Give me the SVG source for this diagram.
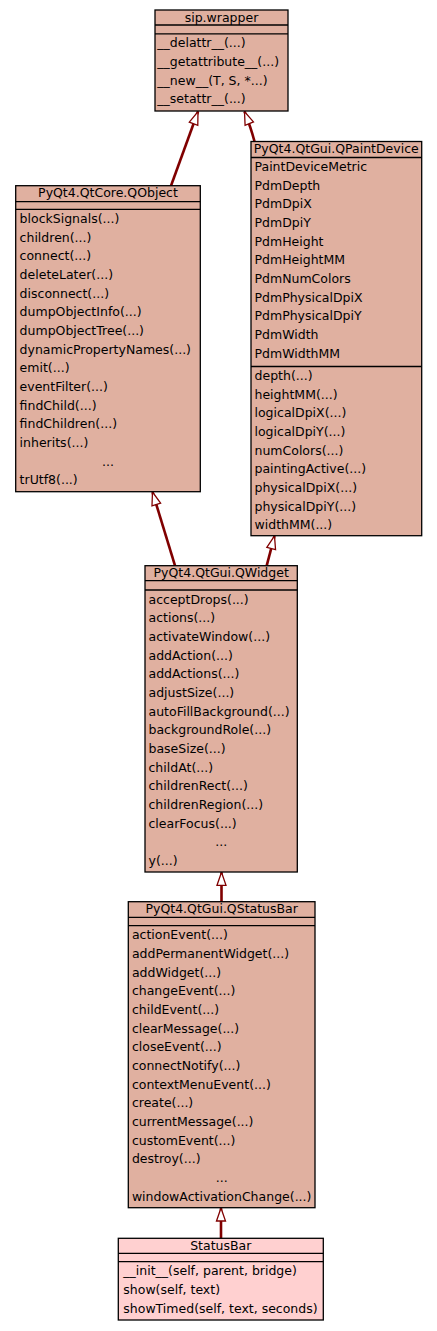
<svg xmlns="http://www.w3.org/2000/svg" width="437" height="1331" viewBox="0 0 437 1331">
<style>
.b{fill:#e0b0a0;stroke:#000;stroke-width:1.3}
.s{fill:#ffd0d0;stroke:#000;stroke-width:1.3}
.d{stroke:#000;stroke-width:1.3}
text{font-family:"DejaVu Sans","Liberation Sans",sans-serif;font-size:12.5px;fill:#000}
.c{text-anchor:middle}
.e{stroke:#800000;stroke-width:2.6;fill:none;marker-end:url(#a)}
</style>
<defs>
<marker id="a" markerUnits="userSpaceOnUse" markerWidth="16" markerHeight="12" refX="13.5" refY="5.5" orient="auto" overflow="visible">
<path d="M0.5,1 L13.5,5.5 L0.5,10 Z" fill="#fff" stroke="#800000" stroke-width="1.3"/>
</marker>
</defs>
<rect width="437" height="1331" fill="#fff"/>
<g id="edges">
<path class="e" d="M171,185.7 L198,111.5"/>
<path class="e" d="M254.5,141.5 Q251,128 244.5,111.5"/>
<path class="e" d="M175,565.7 L152.5,492"/>
<path class="e" d="M266.7,565.7 L274.5,536"/>
<path class="e" d="M221.5,901.7 L221.5,872.3"/>
<path class="e" d="M221,1238.3 L221,1208"/>
</g>
<g id="sip_wrapper">
<rect class="b" x="155" y="10" width="133" height="101"/>
<line class="d" x1="155" y1="25" x2="288" y2="25"/>
<line class="d" x1="155" y1="33.8" x2="288" y2="33.8"/>
<text class="c" x="221.5" y="21.7">sip.wrapper</text>
<text x="157.3" y="47.3">__delattr__(...)</text>
<text x="157.3" y="66">__getattribute__(...)</text>
<text x="157.3" y="84.6">__new__(T, S, *...)</text>
<text x="157.3" y="103.3">__setattr__(...)</text>
</g>
<g id="QObject">
<rect class="b" x="15.7" y="185.7" width="184.6" height="306"/>
<line class="d" x1="15.7" y1="201.7" x2="200.3" y2="201.7"/>
<line class="d" x1="15.7" y1="209.3" x2="200.3" y2="209.3"/>
<text class="c" x="108" y="197.4">PyQt4.QtCore.QObject</text>
<text x="19.6" y="222.8">blockSignals(...)</text>
<text x="19.6" y="241.5">children(...)</text>
<text x="19.6" y="260.1">connect(...)</text>
<text x="19.6" y="278.8">deleteLater(...)</text>
<text x="19.6" y="297.5">disconnect(...)</text>
<text x="19.6" y="316.2">dumpObjectInfo(...)</text>
<text x="19.6" y="334.8">dumpObjectTree(...)</text>
<text x="19.6" y="353.5">dynamicPropertyNames(...)</text>
<text x="19.6" y="372.2">emit(...)</text>
<text x="19.6" y="390.8">eventFilter(...)</text>
<text x="19.6" y="409.5">findChild(...)</text>
<text x="19.6" y="428.2">findChildren(...)</text>
<text x="19.6" y="446.8">inherits(...)</text>
<text class="c" x="108" y="465.5">...</text>
<text x="19.6" y="484.2">trUtf8(...)</text>
</g>
<g id="QPaintDevice">
<rect class="b" x="251" y="141.5" width="170.7" height="394.2"/>
<line class="d" x1="251" y1="157.5" x2="421.7" y2="157.5"/>
<line class="d" x1="251" y1="366.5" x2="421.7" y2="366.5"/>
<text class="c" x="336.3" y="153.2">PyQt4.QtGui.QPaintDevice</text>
<text x="254.5" y="171">PaintDeviceMetric</text>
<text x="254.5" y="189.7">PdmDepth</text>
<text x="254.5" y="208.3">PdmDpiX</text>
<text x="254.5" y="227">PdmDpiY</text>
<text x="254.5" y="245.7">PdmHeight</text>
<text x="254.5" y="264.4">PdmHeightMM</text>
<text x="254.5" y="283">PdmNumColors</text>
<text x="254.5" y="301.7">PdmPhysicalDpiX</text>
<text x="254.5" y="320.4">PdmPhysicalDpiY</text>
<text x="254.5" y="339">PdmWidth</text>
<text x="254.5" y="357.7">PdmWidthMM</text>
<text x="254.5" y="380">depth(...)</text>
<text x="254.5" y="398.7">heightMM(...)</text>
<text x="254.5" y="417.3">logicalDpiX(...)</text>
<text x="254.5" y="436">logicalDpiY(...)</text>
<text x="254.5" y="454.7">numColors(...)</text>
<text x="254.5" y="473.4">paintingActive(...)</text>
<text x="254.5" y="492">physicalDpiX(...)</text>
<text x="254.5" y="510.7">physicalDpiY(...)</text>
<text x="254.5" y="529.4">widthMM(...)</text>
</g>
<g id="QWidget">
<rect class="b" x="145" y="565.7" width="152.3" height="306.3"/>
<line class="d" x1="145" y1="580.7" x2="297.3" y2="580.7"/>
<line class="d" x1="145" y1="590" x2="297.3" y2="590"/>
<text class="c" x="221.2" y="577.4">PyQt4.QtGui.QWidget</text>
<text x="148.5" y="603.5">acceptDrops(...)</text>
<text x="148.5" y="622.2">actions(...)</text>
<text x="148.5" y="640.8">activateWindow(...)</text>
<text x="148.5" y="659.5">addAction(...)</text>
<text x="148.5" y="678.2">addActions(...)</text>
<text x="148.5" y="696.9">adjustSize(...)</text>
<text x="148.5" y="715.5">autoFillBackground(...)</text>
<text x="148.5" y="734.2">backgroundRole(...)</text>
<text x="148.5" y="752.9">baseSize(...)</text>
<text x="148.5" y="771.5">childAt(...)</text>
<text x="148.5" y="790.2">childrenRect(...)</text>
<text x="148.5" y="808.9">childrenRegion(...)</text>
<text x="148.5" y="827.5">clearFocus(...)</text>
<text class="c" x="221.2" y="846.2">...</text>
<text x="148.5" y="864.9">y(...)</text>
</g>
<g id="QStatusBar">
<rect class="b" x="128.3" y="901.7" width="186.7" height="306"/>
<line class="d" x1="128.3" y1="917.3" x2="315" y2="917.3"/>
<line class="d" x1="128.3" y1="925.7" x2="315" y2="925.7"/>
<text class="c" x="221.7" y="913.4">PyQt4.QtGui.QStatusBar</text>
<text x="131.9" y="939.2">actionEvent(...)</text>
<text x="131.9" y="957.9">addPermanentWidget(...)</text>
<text x="131.9" y="976.5">addWidget(...)</text>
<text x="131.9" y="995.2">changeEvent(...)</text>
<text x="131.9" y="1013.9">childEvent(...)</text>
<text x="131.9" y="1032.6">clearMessage(...)</text>
<text x="131.9" y="1051.2">closeEvent(...)</text>
<text x="131.9" y="1069.9">connectNotify(...)</text>
<text x="131.9" y="1088.6">contextMenuEvent(...)</text>
<text x="131.9" y="1107.2">create(...)</text>
<text x="131.9" y="1125.9">currentMessage(...)</text>
<text x="131.9" y="1144.6">customEvent(...)</text>
<text x="131.9" y="1163.2">destroy(...)</text>
<text class="c" x="221.7" y="1181.9">...</text>
<text x="131.9" y="1200.6">windowActivationChange(...)</text>
</g>
<g id="StatusBar">
<rect class="s" x="118.3" y="1238.3" width="205" height="81.7"/>
<line class="d" x1="118.3" y1="1253.3" x2="323.3" y2="1253.3"/>
<line class="d" x1="118.3" y1="1261.7" x2="323.3" y2="1261.7"/>
<text class="c" x="220.8" y="1250">StatusBar</text>
<text x="123.3" y="1275.2">__init__(self, parent, bridge)</text>
<text x="123.3" y="1293.9">show(self, text)</text>
<text x="123.3" y="1312.5">showTimed(self, text, seconds)</text>
</g>
</svg>
